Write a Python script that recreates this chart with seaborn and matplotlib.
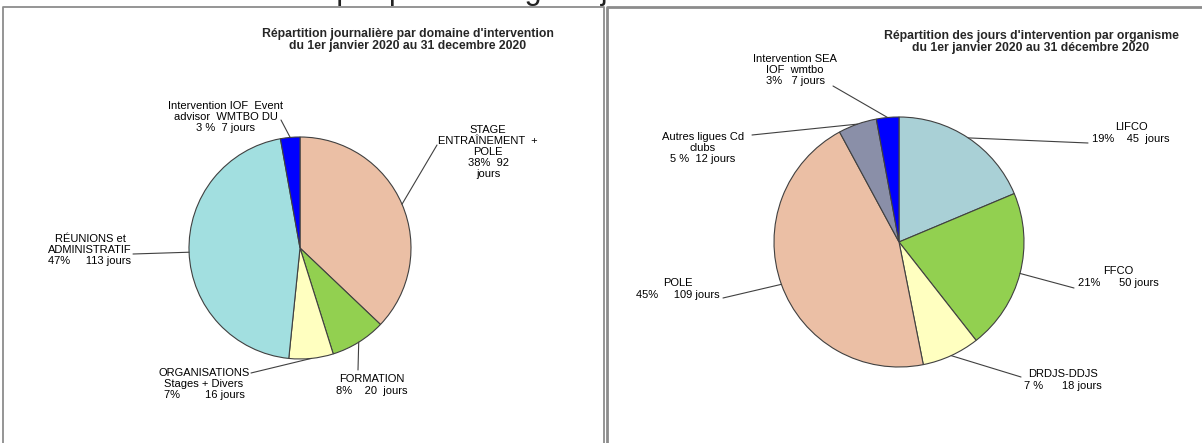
import numpy as np
import matplotlib
matplotlib.use('Agg')
from matplotlib import pyplot as plt
import seaborn as sns

sns.set_theme(style='white')
plt.rcParams['font.family'] = ['Liberation Sans', 'DejaVu Sans']

# données : graphique de gauche (par domaine)
domaines = ['STAGE\nENTRAÎNEMENT  +\nPOLE\n38%  92\njours',
            'FORMATION\n8%    20  jours',
            'ORGANISATIONS\nStages + Divers\n7%        16 jours',
            'RÉUNIONS et\nADMINISTRATIF\n47%     113 jours',
            'Intervention IOF  Event\nadvisor  WMTBO DU\n3 %  7 jours']
jours_domaines = [92, 20, 16, 113, 7]
couleurs_domaines = ['#EBBFA5', '#92D050', '#FFFFC0', '#A2DFE0', '#0000FF']

# données : graphique de droite (par organisme)
organismes = ['LIFCO\n19%    45  jours',
              'FFCO\n21%      50 jours',
              'DRDJS-DDJS\n7 %      18 jours',
              'POLE\n45%     109 jours',
              'Autres ligues Cd\nclubs\n5 %  12 jours',
              'Intervention SEA\nIOF  wmtbo\n3%   7 jours']
jours_organismes = [45, 50, 18, 109, 12, 7]
couleurs_organismes = ['#A9D0D6', '#92D050', '#FFFFC0', '#EBBFA5', '#8A8FA8', '#0000FF']

W, H = 1202, 443


def Y(py):
    # coordonnées pixel (haut = 0) -> coordonnées de l'axe
    return H - py


fig = plt.figure(figsize=(W / 100, H / 100), dpi=100)
ax = fig.add_axes([0, 0, 1, 1])
ax.set_xlim(0, W)
ax.set_ylim(0, H)
ax.set_aspect('equal')
ax.set_axis_off()

# cadres des deux panneaux
ax.plot([3, 3, 604, 604], [Y(445), Y(7), Y(7), Y(445)], color='#8c8c8c', lw=1.3, clip_on=False)
ax.plot([607, 607, 1205], [Y(445), Y(7), Y(7)], color='#8c8c8c', lw=2, clip_on=False)

# titre coupé en haut de l'image (seul le bas des lettres est visible)
ax.text(480, Y(-1), 'ou par pourcentage et jours', fontsize=22, ha='center', va='baseline',
        color='#222222')


def tracer_camembert(valeurs, couleurs, etiquettes, centre, rayon, positions):
    wedges, _ = ax.pie(valeurs, colors=couleurs, startangle=90, counterclock=False,
                       center=(centre[0], Y(centre[1])), radius=rayon,
                       wedgeprops=dict(edgecolor='#404040', linewidth=0.8))
    for w, lab, (tx, ty, ha, lx, ly) in zip(wedges, etiquettes, positions):
        ang = np.deg2rad((w.theta1 + w.theta2) / 2)
        px = centre[0] + rayon * np.cos(ang)
        py = Y(centre[1]) + rayon * np.sin(ang)
        ax.plot([px, lx], [py, Y(ly)], color='#404040', lw=0.8)
        ax.text(tx, Y(ty), lab, fontsize=8, ha=ha, va='center', multialignment='center',
                linespacing=1.15, color='black')


# (x texte, y texte, alignement, x fin trait, y fin trait)
pos_gauche = [(488, 152, 'center', 437, 145),
              (372, 385, 'center', 358, 370),
              (204, 384, 'center', 251, 373),
              (90, 250, 'center', 133, 254),
              (226, 117, 'center', 281, 120)]
tracer_camembert(jours_domaines, couleurs_domaines, domaines, (300, 248), 111, pos_gauche)

pos_droite = [(1131, 133, 'center', 1088, 143),
              (1118, 277, 'center', 1074, 288),
              (1063, 380, 'center', 1021, 377),
              (678, 289, 'center', 723, 298),
              (703, 148, 'center', 752, 135),
              (795, 70, 'center', 833, 86)]
tracer_camembert(jours_organismes, couleurs_organismes, organismes, (899, 242), 125, pos_droite)

ax.text(408, Y(40), "Répartition journalière par domaine d'intervention\ndu 1er janvier 2020 au 31 decembre 2020",
        fontsize=8.8, fontweight='bold', ha='center', va='center', multialignment='center', linespacing=1.1)
ax.text(1031, Y(42), "Répartition des jours d'intervention par organisme\ndu 1er janvier 2020 au 31 décembre 2020",
        fontsize=8.8, fontweight='bold', ha='center', va='center', multialignment='center', linespacing=1.1)

ax.set_xlim(0, W)
ax.set_ylim(0, H)
fig.savefig('out.png', dpi=100)
